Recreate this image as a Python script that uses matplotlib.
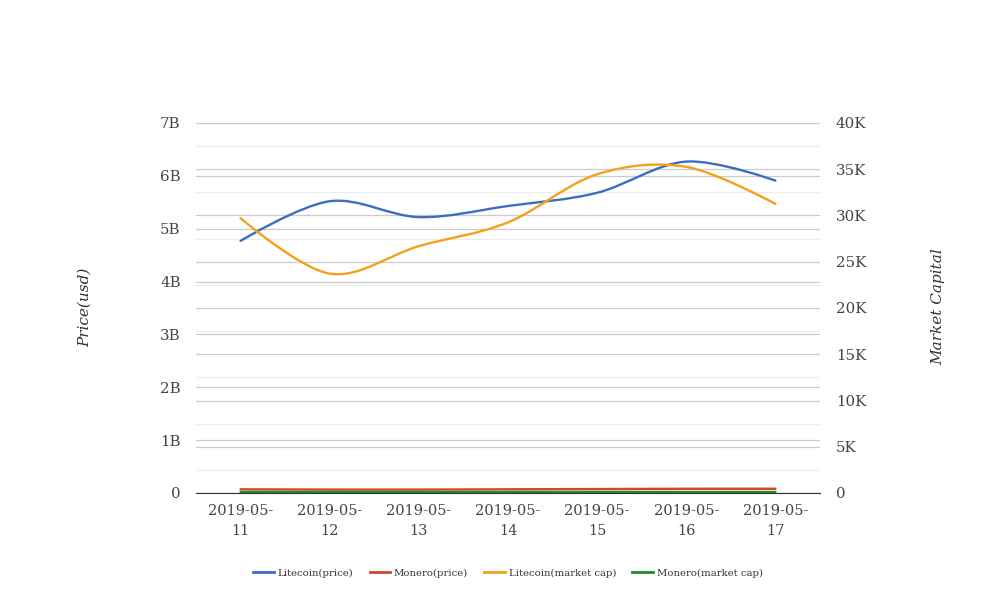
import numpy as np
import matplotlib
matplotlib.use('Agg')
import matplotlib.pyplot as plt
from matplotlib.path import Path
from matplotlib.patches import PathPatch
from matplotlib.lines import Line2D
from matplotlib.ticker import FuncFormatter, MultipleLocator

plt.rcParams['font.family'] = ['DejaVu Serif']

dates = ['2019-05-11', '2019-05-12', '2019-05-13', '2019-05-14',
         '2019-05-15', '2019-05-16', '2019-05-17']
# values in billions (left axis)
litecoin_price = [4.77, 5.52, 5.22, 5.43, 5.68, 6.27, 5.91]
monero_price = [0.07, 0.065, 0.065, 0.07, 0.075, 0.08, 0.08]
litecoin_mcap = [5.20, 4.15, 4.67, 5.12, 6.03, 6.17, 5.47]
monero_mcap = [0.02, 0.02, 0.02, 0.02, 0.02, 0.02, 0.02]

series = [('Litecoin(price)', litecoin_price, '#3d6cc0'),
          ('Monero(price)', monero_price, '#d2462a'),
          ('Litecoin(market cap)', litecoin_mcap, '#f5a01a'),
          ('Monero(market cap)', monero_mcap, '#228b22')]

TXT = '#444444'


def smooth_path(x, y):
    # cubic bezier through the points, catmull-rom style tangents
    x = np.asarray(x, float)
    y = np.asarray(y, float)
    n = len(x)
    verts = [(x[0], y[0])]
    codes = [Path.MOVETO]
    def tan(i):
        if i == 0 or i == n - 1:
            return 0.0, 0.0
        return (x[i + 1] - x[i - 1]) / 2, (y[i + 1] - y[i - 1]) / 2
    for i in range(n - 1):
        t0 = tan(i)
        t1 = tan(i + 1)
        verts += [(x[i] + t0[0] / 3, y[i] + t0[1] / 3),
                  (x[i + 1] - t1[0] / 3, y[i + 1] - t1[1] / 3),
                  (x[i + 1], y[i + 1])]
        codes += [Path.CURVE4] * 3
    return Path(verts, codes)


fig = plt.figure(figsize=(10.08, 6.16), dpi=100)
ax = fig.add_axes([196 / 1008, 1 - 493 / 616, 624 / 1008, 370 / 616])
ax2 = ax.twinx()
ax.set_zorder(ax2.get_zorder() + 1)
ax.patch.set_visible(False)

xs = np.arange(len(dates))
handles = []
for name, vals, col in series:
    ax.add_patch(PathPatch(smooth_path(xs, vals), fill=False, edgecolor=col,
                           lw=1.7, zorder=3, capstyle='round'))
    handles.append(Line2D([], [], color=col, lw=2, label=name))

ax.set_xlim(-0.5, len(dates) - 0.5)
ax.set_ylim(0, 7)
ax.set_xticks(xs)
ax.set_xticklabels([d[:8] + '\n' + d[8:] for d in dates], color=TXT, fontsize=10.5,
                   linespacing=1.5)
ax.yaxis.set_major_locator(MultipleLocator(1))
ax.yaxis.set_major_formatter(FuncFormatter(lambda v, p: '0' if v == 0 else '%dB' % v))
ax.tick_params(axis='y', length=0, pad=11, labelcolor=TXT, labelsize=10.8)
ax.tick_params(axis='x', length=0, pad=8)
ax.grid(axis='y', color='#cccccc', lw=0.9)
ax.set_axisbelow(True)

ax2.set_ylim(0, 40000)
ax2.yaxis.set_major_locator(MultipleLocator(5000))
ax2.yaxis.set_minor_locator(MultipleLocator(2500))
ax2.yaxis.set_major_formatter(FuncFormatter(lambda v, p: '0' if v == 0 else '%dK' % (v / 1000)))
ax2.tick_params(axis='y', which='both', length=0, pad=11.5, labelcolor=TXT, labelsize=10.8)
ax2.grid(axis='y', which='major', color='#cccccc', lw=0.9)
ax2.grid(axis='y', which='minor', color='#ececec', lw=0.9)

for a in (ax, ax2):
    for s in ('top', 'left', 'right', 'bottom'):
        a.spines[s].set_visible(False)
ax.spines['bottom'].set_visible(True)
ax.spines['bottom'].set_color('#333333')
ax.spines['bottom'].set_zorder(4)

fig.text(85 / 1008, 1 - 307 / 616, 'Price(usd)', rotation=90, style='italic',
         ha='center', va='center', color='#333333', fontsize=11)
fig.text(938 / 1008, 1 - 307 / 616, 'Market Capital', rotation=90, style='italic',
         ha='center', va='center', color='#333333', fontsize=11)

fig.legend(handles=handles, loc='center', bbox_to_anchor=(508 / 1008, 1 - 573 / 616),
           ncol=4, frameon=False, fontsize=7.3, handlelength=2.0, columnspacing=1.6,
           handletextpad=0.4, labelcolor='#333333')

fig.savefig('out.png', dpi=100)
